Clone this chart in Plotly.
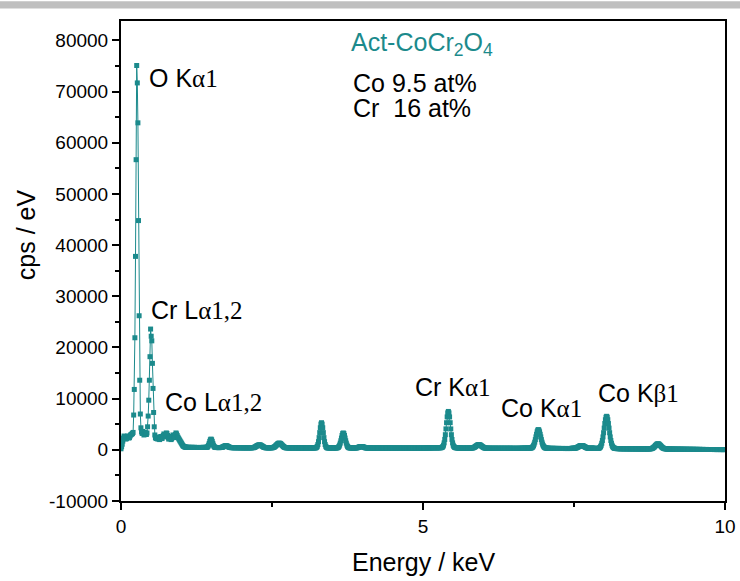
import numpy as np
import plotly.graph_objects as go

# EDS spectrum of Act-CoCr2O4, sampled every 0.01 keV from 0 to 10 keV (cps / eV)
ENERGY_STEP_KEV = 0.01

counts_0_to_1p2 = [
    200, 600, 1100, 1700, 2300, 2700, 2600, 2300, 2100, 2200,
    2500, 2700, 2500, 2300, 2400, 2700, 2900, 3000, 3100, 3200,
    3400, 6800, 11800, 21900, 37800, 56700, 75100, 71700, 63900, 44800,
    26200, 13600, 7000, 4300, 3500, 3200, 3600, 3300, 2900, 3000,
    3400, 3100, 3000, 3300, 4500, 6600, 9700, 13600, 18200, 23600,
    22200, 21300, 16900, 12000, 7300, 4500, 2900, 2400, 2200, 2500,
    2300, 2100, 2400, 2200, 2000, 2300, 2600, 2400, 2200, 2500,
    2800, 3100, 2900, 2600, 2900, 3300, 3200, 2800, 2400, 2100,
    2200, 2500, 2300, 2000, 2200, 2600, 2900, 2700, 2400, 2600,
    3000, 3300, 3100, 2800, 2500, 2300, 2100, 1900, 1700, 1500,
    1300, 1100, 900, 750, 650, 600, 550, 520, 500, 490,
    480, 470, 480, 490, 480, 470, 460, 470, 480, 470,
]

counts_1p2_to_5 = [
    460, 470, 480, 470, 460, 450, 460, 470, 460, 450,
    460, 470, 460, 450, 460, 470, 480, 470, 460, 480,
    470, 480, 490, 540, 680, 910, 1260, 1650, 1970, 2100,
    1970, 1650, 1260, 910, 680, 540, 480, 460, 450, 440,
    450, 440, 430, 440, 450, 450, 460, 480, 520, 580,
    640, 700, 760, 790, 800, 780, 730, 660, 590, 530,
    490, 460, 440, 430, 420, 430, 420, 410, 420, 430,
    420, 410, 420, 410, 400, 410, 420, 410, 400, 410,
    400, 410, 400, 390, 400, 410, 400, 390, 400, 410,
    400, 390, 400, 410, 400, 390, 400, 410, 420, 430,
    450, 490, 550, 620, 700, 780, 850, 900, 940, 960,
    950, 920, 860, 780, 700, 620, 550, 490, 450, 420,
    410, 400, 410, 400, 390, 400, 410, 400, 390, 400,
    410, 420, 450, 500, 570, 660, 770, 890, 1010, 1120,
    1220, 1280, 1300, 1280, 1220, 1120, 1000, 870, 750, 640,
    550, 480, 440, 410, 400, 390, 400, 390, 380, 390,
    380, 390, 380, 370, 380, 390, 380, 370, 380, 370,
    380, 370, 360, 370, 380, 370, 360, 370, 380, 370,
    360, 370, 380, 370, 360, 370, 380, 370, 360, 370,
    380, 370, 370, 380, 370, 360, 370, 380, 370, 370,
    370, 380, 390, 420, 510, 700, 1040, 1600, 2390, 3360,
    4310, 5030, 5300, 5030, 4310, 3360, 2390, 1600, 1040, 700,
    510, 420, 390, 370, 380, 370, 360, 370, 380, 390,
    370, 360, 370, 380, 370, 360, 370, 380, 400, 440,
    525, 680, 930, 1310, 1770, 2300, 2800, 3170, 3300, 3170,
    2800, 2300, 1770, 1310, 930, 680, 525, 440, 400, 380,
    370, 360, 370, 360, 370, 380, 370, 360, 370, 380,
    390, 410, 440, 480, 530, 580, 620, 640, 650, 640,
    610, 570, 520, 470, 430, 400, 380, 370, 360, 350,
    350, 340, 350, 360, 350, 340, 350, 340, 330, 340,
    350, 340, 330, 340, 350, 340, 330, 340, 350, 340,
    330, 340, 350, 340, 330, 340, 350, 340, 330, 340,
    350, 340, 330, 340, 350, 340, 330, 340, 330, 340,
    330, 340, 330, 340, 330, 320, 330, 340, 330, 320,
    330, 340, 330, 320, 330, 340, 330, 320, 330, 340,
    330, 320, 330, 340, 330, 320, 330, 340, 330, 320,
    330, 340, 330, 320, 330, 320, 330, 340, 330, 320,
    330, 320, 330, 340, 330, 320, 330, 340, 350, 340,
]

counts_5_to_10 = [
    330, 340, 350, 340, 350, 360, 350, 360, 370, 360,
    370, 380, 370, 380, 390, 380, 390, 400, 410, 400,
    400, 410, 400, 390, 400, 410, 400, 410, 400, 410,
    420, 450, 520, 660, 900, 1360, 2030, 2960, 4090, 5300,
    6430, 7220, 7500, 7220, 6430, 5300, 4090, 2960, 2030, 1360,
    900, 660, 520, 450, 420, 400, 390, 380, 370, 360,
    350, 340, 330, 340, 330, 320, 330, 340, 330, 320,
    330, 320, 330, 340, 330, 320, 330, 340, 330, 340,
    350, 360, 380, 400, 440, 500, 570, 660, 750, 840,
    920, 970, 1000, 1000, 970, 910, 830, 740, 650, 560,
    480, 420, 380, 350, 330, 320, 310, 320, 310, 300,
    310, 300, 310, 300, 290, 300, 310, 300, 290, 300,
    310, 300, 290, 300, 310, 300, 290, 300, 290, 300,
    310, 300, 290, 300, 290, 300, 310, 300, 290, 300,
    290, 300, 290, 300, 310, 300, 290, 300, 290, 280,
    290, 300, 290, 280, 290, 300, 290, 280, 290, 300,
    290, 300, 310, 300, 310, 320, 310, 320, 330, 320,
    330, 320, 330, 340, 330, 340, 330, 340, 350, 370,
    410, 490, 620, 820, 1120, 1500, 1990, 2530, 3040, 3520,
    3840, 3950, 3840, 3520, 3040, 2530, 1990, 1500, 1120, 820,
    620, 490, 410, 370, 350, 330, 320, 310, 300, 290,
    280, 290, 280, 270, 280, 290, 280, 270, 280, 270,
    280, 270, 260, 270, 280, 270, 260, 270, 260, 270,
    260, 270, 260, 270, 260, 250, 260, 270, 260, 250,
    260, 270, 260, 250, 260, 270, 280, 290, 310, 330,
    290, 310, 330, 360, 400, 450, 510, 580, 650, 720,
    780, 820, 850, 850, 820, 780, 720, 650, 580, 510,
    450, 400, 360, 330, 310, 300, 290, 300, 310, 330,
    340, 330, 320, 300, 290, 280, 270, 260, 270, 270,
    280, 310, 370, 460, 630, 890, 1290, 1830, 2520, 3340,
    4250, 5130, 5880, 6370, 6550, 6370, 5880, 5130, 4250, 3340,
    2520, 1830, 1290, 890, 630, 460, 370, 310, 280, 260,
    250, 240, 230, 240, 230, 220, 230, 220, 210, 220,
    210, 220, 210, 200, 210, 220, 210, 200, 210, 200,
    210, 200, 190, 200, 210, 200, 190, 200, 190, 200,
    190, 200, 190, 180, 190, 200, 190, 180, 190, 180,
    190, 180, 190, 180, 190, 180, 170, 180, 190, 180,
    180, 190, 180, 190, 180, 190, 195, 210, 230, 265,
    315, 390, 480, 590, 710, 840, 970, 1080, 1145, 1170,
    1145, 1080, 970, 840, 710, 590, 480, 390, 315, 265,
    230, 210, 195, 180, 170, 160, 150, 140, 150, 140,
    130, 140, 130, 120, 130, 120, 130, 120, 110, 120,
    110, 120, 110, 120, 110, 100, 110, 120, 110, 100,
    110, 100, 110, 100, 90, 100, 110, 100, 90, 100,
    90, 100, 90, 100, 90, 80, 90, 100, 90, 80,
    90, 80, 90, 80, 90, 80, 70, 80, 90, 80,
    70, 80, 70, 80, 70, 80, 70, 60, 70, 80,
    70, 60, 70, 60, 70, 60, 70, 60, 70, 60,
    70, 60, 50, 60, 70, 60, 50, 60, 50, 60,
    50, 60, 50, 60, 50, 60, 50, 40, 50, 60,
    50,
]

y_tick_values = [-10000, 0, 10000, 20000, 30000, 40000, 50000, 60000, 70000, 80000]
y_tick_labels = ["-10000", "0", "10000", "20000", "30000", "40000",
                 "50000", "60000", "70000", "80000"]
x_tick_values = [0, 5, 10]
x_tick_labels = ["0", "5", "10"]

counts = np.array(counts_0_to_1p2 + counts_1p2_to_5 + counts_5_to_10, dtype=float)
energy = np.round(np.arange(len(counts)) * ENERGY_STEP_KEV, 2)

TEAL = "#1b8a8c"
SANS = "Liberation Sans, Arial, sans-serif"
SERIF = "Liberation Serif, Times New Roman, serif"
LABEL_SIZE = 25


def greek(text):
    return f"<span style='font-family:{SERIF}'>{text}</span>"


fig = go.Figure()
fig.add_trace(go.Scatter(
    x=energy, y=counts, mode="lines+markers",
    line=dict(color=TEAL, width=1),
    marker=dict(symbol="square", size=5, color=TEAL, line=dict(width=0)),
    showlegend=False,
))

# peak assignments: (text, energy keV, cps/eV) anchored at the left-middle of the text
peak_labels = [
    ("O K" + greek("α1"), 0.43, 72600),
    ("Cr L" + greek("α1,2"), 0.46, 27300),
    ("Co L" + greek("α1,2"), 0.69, 9400),
    ("Cr K" + greek("α1"), 4.83, 12300),
    ("Co K" + greek("β1"), 7.87, 11200),
    ("Co K" + greek("α1"), 6.25, 8200),
]
for text, ex, ey in peak_labels:
    fig.add_annotation(x=ex, y=ey, text=text, showarrow=False,
                       xanchor="left", yanchor="middle",
                       font=dict(family=SANS, size=LABEL_SIZE, color="black"))

# sample name and composition
fig.add_annotation(x=3.77, y=79300, text="Act-CoCr<sub>2</sub>O<sub>4</sub>",
                   showarrow=False, xanchor="left", yanchor="middle",
                   font=dict(family=SANS, size=LABEL_SIZE, color=TEAL))
fig.add_annotation(x=3.80, y=71700, text="Co 9.5 at%", showarrow=False,
                   xanchor="left", yanchor="middle",
                   font=dict(family=SANS, size=LABEL_SIZE, color="black"))
fig.add_annotation(x=3.80, y=66800, text="Cr  16 at%", showarrow=False,
                   xanchor="left", yanchor="middle",
                   font=dict(family=SANS, size=LABEL_SIZE, color="black"))

# axis titles, placed on the paper so the plot area keeps its size
fig.add_annotation(xref="paper", yref="paper", x=-0.158, y=0.555,
                   text="cps / eV", textangle=-90, showarrow=False,
                   xanchor="center", yanchor="middle",
                   font=dict(family=SANS, size=LABEL_SIZE, color="black"))
fig.add_annotation(xref="paper", yref="paper", x=0.5, y=-0.128,
                   text="Energy / keV", showarrow=False,
                   xanchor="center", yanchor="middle",
                   font=dict(family=SANS, size=LABEL_SIZE, color="black"))

# grey rule across the top of the page
fig.add_shape(type="rect", xref="paper", yref="paper",
              x0=-0.25, x1=1.05, y0=1.026, y1=1.041,
              fillcolor="#bfbfbf", line=dict(width=0), layer="above")

axis_common = dict(
    showline=True, linecolor="black", linewidth=2, mirror=True,
    ticks="outside", tickcolor="black", tickwidth=2, ticklen=7,
    showgrid=False, zeroline=False, automargin=False,
    tickfont=dict(family=SANS, size=19, color="black"),
)

fig.update_xaxes(
    range=[0, 10], tickmode="array", tickvals=x_tick_values, ticktext=x_tick_labels,
    minor=dict(ticks="outside", dtick=2.5, tick0=0, ticklen=4, tickwidth=2,
               tickcolor="black", showgrid=False),
    **axis_common,
)
fig.update_yaxes(
    range=[-10000, 83800], tickmode="array", tickvals=y_tick_values, ticktext=y_tick_labels,
    minor=dict(ticks="outside", dtick=5000, tick0=0, ticklen=4, tickwidth=2,
               tickcolor="black", showgrid=False),
    **axis_common,
)

fig.update_layout(
    width=740, height=581,
    margin=dict(l=121, r=15, t=21, b=80),
    paper_bgcolor="white", plot_bgcolor="white",
    font=dict(family=SANS),
)

fig.write_html("out.html")
